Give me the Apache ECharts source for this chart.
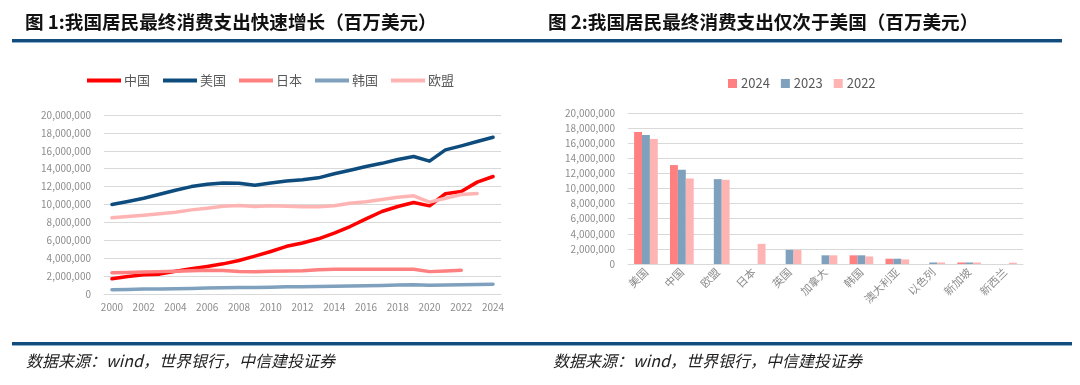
<!DOCTYPE html>
<html><head><meta charset="utf-8">
<script src="https://cdn.jsdelivr.net/npm/echarts@6/dist/echarts.min.js"></script>
<style>html,body{margin:0;padding:0;background:#fff;}#c{width:1080px;height:385px;}</style>
</head><body><div id="c"></div>
<script>
// ---- Figure 1 data (百万美元) ----
const years = ['2000','2001','2002','2003','2004','2005','2006','2007','2008','2009','2010','2011','2012','2013','2014','2015','2016','2017','2018','2019','2020','2021','2022','2023','2024'];
const china = [1700000,1960000,2140000,2220000,2550000,2810000,3070000,3370000,3740000,4230000,4750000,5330000,5700000,6170000,6800000,7540000,8400000,9220000,9780000,10220000,9850000,11200000,11450000,12500000,13130000];
const usa = [10000000,10330000,10700000,11150000,11600000,12000000,12270000,12400000,12380000,12160000,12400000,12620000,12760000,12980000,13430000,13830000,14250000,14600000,15030000,15360000,14840000,16100000,16550000,17040000,17520000];
const japan = [2380000,2400000,2450000,2500000,2550000,2600000,2650000,2620000,2520000,2480000,2530000,2560000,2600000,2720000,2760000,2770000,2770000,2770000,2770000,2770000,2500000,2580000,2640000,null,null];
const korea = [470000,500000,550000,560000,580000,620000,660000,700000,720000,720000,760000,800000,820000,840000,860000,880000,920000,960000,1000000,1020000,970000,1000000,1040000,1060000,1100000];
const eu = [8510000,8660000,8800000,8960000,9140000,9400000,9590000,9810000,9890000,9780000,9850000,9800000,9740000,9740000,9850000,10150000,10300000,10560000,10820000,10970000,10260000,10700000,11120000,11230000,null];
const lineNames = ['中国','美国','日本','韩国','欧盟'];
const leftTicks = [0,2000000,4000000,6000000,8000000,10000000,12000000,14000000,16000000,18000000,20000000];

// ---- Figure 2 data (百万美元) ----
const countries = ['美国','中国','欧盟','日本','英国','加拿大','韩国','澳大利亚','以色列','新加坡','新西兰'];
const v2024 = [17470000,13100000,null,null,null,null,1150000,700000,null,200000,null];
const v2023 = [17100000,12480000,11240000,null,1870000,1150000,1150000,700000,200000,200000,null];
const v2022 = [16570000,11330000,11150000,2670000,1870000,1150000,1000000,610000,200000,200000,170000];
const barNames = ['2024','2023','2022'];

const lineColors = ['#FF0000','#0E4C7E','#FF8080','#7FA1BD','#FFB4B4'];
const barColors = ['#FF8080','#7FA1BD','#FFB4B4'];
const axisGray = '#8c8c8c';
const gridGray = '#d9d9d9';
const fmt = v => String(v).replace(/\B(?=(\d{3})+(?!\d))/g, ',');
const cjk = '"Noto Sans CJK SC","Noto Sans",sans-serif';

const chart = echarts.init(document.getElementById('c'), null, {renderer:'canvas'});
const lineData = [china, usa, japan, korea, eu];

const titleStyle = {fontSize: 18.6, fontWeight: 'bold', color: '#111', fontFamily: cjk};
const footStyle = {fontSize: 16, fontWeight: 'normal', fontStyle: 'italic', color: '#222', fontFamily: cjk};

const option = {
  animation: false,
  textStyle: {fontFamily: cjk},
  title: [
    {text: '图 1:我国居民最终消费支出快速增长（百万美元）', left: 25, top: 13, padding: 0, textStyle: titleStyle},
    {text: '图 2:我国居民最终消费支出仅次于美国（百万美元）', left: 548, top: 13, padding: 0, textStyle: titleStyle},
    {text: '数据来源：wind，世界银行，中信建投证券', left: 26, top: 353, padding: 0, textStyle: footStyle},
    {text: '数据来源：wind，世界银行，中信建投证券', left: 553, top: 353, padding: 0, textStyle: footStyle}
  ],
  graphic: [
    {type: 'rect', shape: {x: 12, y: 39, width: 1050, height: 3}, style: {fill: '#124C7C'}, silent: true},
    {type: 'rect', shape: {x: 12, y: 42, width: 1050, height: 1}, style: {fill: '#8DB0CF'}, silent: true},
    {type: 'rect', shape: {x: 12, y: 342, width: 1060, height: 3}, style: {fill: '#124C7C'}, silent: true},
    {type: 'rect', shape: {x: 12, y: 345, width: 1060, height: 1}, style: {fill: '#8DB0CF'}, silent: true}
  ],
  legend: [
    {data: lineNames, left: 87, top: 74, padding: 0, icon: 'rect', itemWidth: 34, itemHeight: 4, itemGap: 13,
     textStyle: {fontSize: 13, color: '#595959', padding: [0,0,0,-2]}},
    {data: barNames, left: 728, top: 77, padding: 0, icon: 'rect', itemWidth: 9, itemHeight: 9, itemGap: 11,
     textStyle: {fontSize: 13, color: '#595959', padding: [0,0,0,-1]}}
  ],
  grid: [
    {left: 104, top: 115, width: 397, height: 179},
    {left: 628, top: 113, width: 395, height: 151}
  ],
  xAxis: [
    {type: 'category', gridIndex: 0, data: years, boundaryGap: true,
     axisLine: {lineStyle: {color: gridGray}},
     axisTick: {interval: 1, length: 4, lineStyle: {color: gridGray}},
     axisLabel: {interval: 1, color: axisGray, fontSize: 10, margin: 8}},
    {type: 'category', gridIndex: 1, data: countries, boundaryGap: true,
     axisLine: {lineStyle: {color: gridGray}},
     axisTick: {length: 4, lineStyle: {color: gridGray}},
     axisLabel: {interval: 0, rotate: 45, color: axisGray, fontSize: 11, margin: 6}}
  ],
  yAxis: [
    {type: 'value', gridIndex: 0, min: 0, max: 20000000, interval: 2000000,
     axisLine: {show: false}, axisTick: {show: false},
     splitLine: {lineStyle: {color: gridGray}},
     axisLabel: {color: axisGray, fontSize: 10, margin: 13, formatter: fmt}},
    {type: 'value', gridIndex: 1, min: 0, max: 20000000, interval: 2000000,
     axisLine: {show: false}, axisTick: {show: false},
     splitLine: {lineStyle: {color: gridGray}},
     axisLabel: {color: axisGray, fontSize: 10, margin: 13, formatter: fmt}}
  ],
  series: [
    ...lineNames.map((n, i) => ({
      name: n, type: 'line', xAxisIndex: 0, yAxisIndex: 0, data: lineData[i],
      symbol: 'none', smooth: false, connectNulls: false,
      lineStyle: {width: 3.5, color: lineColors[i], cap: 'round', join: 'round'},
      itemStyle: {color: lineColors[i]}
    })),
    ...barNames.map((n, i) => ({
      name: n, type: 'bar', xAxisIndex: 1, yAxisIndex: 1, data: [v2024, v2023, v2022][i],
      barGap: '0%', barCategoryGap: '34%',
      itemStyle: {color: barColors[i]}
    }))
  ]
};
chart.setOption(option);
</script></body></html>
